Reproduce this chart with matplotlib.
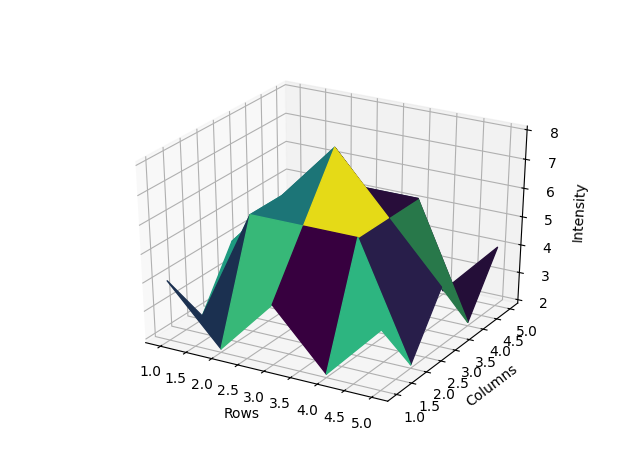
import numpy as np
import matplotlib
matplotlib.use("Agg")
import matplotlib.pyplot as plt
from matplotlib.colors import to_rgba

rows = [1, 2, 3, 4, 5]
columns = [1, 2, 3, 4, 5]
heights = [
    [4, 2, 4, 2, 4],
    [2, 6, 6, 6, 2],
    [4, 6, 8, 6, 4],
    [2, 6, 6, 6, 2],
    [4, 2, 4, 2, 4],
]
face_colors = [
    ['#1b3050', '#37b878', '#37003f', '#2db580'],
    ['#1e9a80', '#1c7577', '#e5da17', '#281e4a'],
    ['#22807a', '#1f6f70', '#280d3a', '#28784a'],
    ['#1f6f70', '#22807a', '#1b3050', '#240e38'],
]

X, Y = np.meshgrid(rows, columns)
Z = np.array(heights, dtype=float)
colors = np.array([[to_rgba(c) for c in row] for row in face_colors])

fig = plt.figure(figsize=(6.4, 4.76), dpi=100)
ax = fig.add_subplot(projection='3d')
ax.set_box_aspect((1, 1, 1), zoom=25/24/1.1)
ax.apply_aspect = lambda position=None: None
ax.plot_surface(X, Y, Z, facecolors=colors, rstride=1, cstride=1, shade=False)
ax.set_xlabel('Rows')
ax.set_ylabel('Columns')
ax.set_zlabel('Intensity')
fig.savefig('out.png', dpi=100)
